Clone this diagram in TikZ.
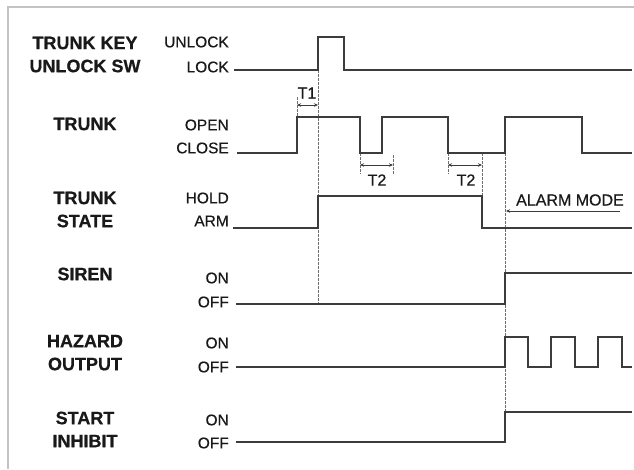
\documentclass[tikz,border=0pt]{standalone}
\usepackage{fontspec}
\setmainfont{Liberation Sans}
\newfontfamily\sigfont[FakeBold=0.6]{Liberation Sans Bold}
\newfontfamily\lvlfont[FakeBold=0.5]{Liberation Sans}
\usetikzlibrary{arrows.meta}
\definecolor{wavec}{RGB}{60,60,60}
\definecolor{guidec}{RGB}{110,110,110}
\definecolor{framec}{RGB}{195,195,195}
\definecolor{txtc}{RGB}{25,25,25}
\begin{document}
\begin{tikzpicture}[x=1pt,y=-1pt,
 wave/.style={line width=1.8pt, draw=wavec, line join=miter},
 guide/.style={line width=0.8pt, draw=guidec, dash pattern=on 2.5pt off 1.5pt},
 dim/.style={line width=0.8pt, draw=wavec, {Stealth[length=4pt,width=3.5pt]}-{Stealth[length=4pt,width=3.5pt]}},
 sig/.style={font=\fontsize{18}{20}\selectfont\sigfont, text=txtc, inner sep=0pt},
 lvl/.style={font=\fontsize{15.5}{17}\selectfont\lvlfont, text=txtc, anchor=east, inner sep=0pt},
 tm/.style={font=\fontsize{16}{18}\selectfont\lvlfont, text=txtc, inner sep=0pt}]
\useasboundingbox (0,0) rectangle (634,469);
\draw[framec, line width=1.5pt] (8,469) -- (8,7) -- (634,7);
% signal names
\node[sig] (k1) at (85,43) {TRUNK KEY};
\node[sig] (k2) at (85,66) {UNLOCK SW};
\node[sig] (t) at (85,124) {TRUNK};
\node[sig] (s1) at (85,198) {TRUNK};
\node[sig] (s2) at (85,221) {STATE};
\node[sig] (sr) at (85,274) {SIREN};
\node[sig] (h1) at (85,341) {HAZARD};
\node[sig] (h2) at (85,364) {OUTPUT};
\node[sig] (i1) at (85,418) {START};
\node[sig] (i2) at (85,441) {INHIBIT};
% levels
\node[lvl] (l1) at (229,42) {UNLOCK};
\node[lvl] (l2) at (229,67) {LOCK};
\node[lvl] (l3) at (229,125) {OPEN};
\node[lvl] (l4) at (229,148) {CLOSE};
\node[lvl] (l5) at (229,198) {HOLD};
\node[lvl] (l6) at (229,221) {ARM};
\node[lvl] (l7) at (229,278) {ON};
\node[lvl] (l8) at (229,302) {OFF};
\node[lvl] (l9) at (229,343) {ON};
\node[lvl] (l10) at (229,367) {OFF};
\node[lvl] (l11) at (229,420) {ON};
\node[lvl] (l12) at (229,443) {OFF};
% guides
\draw[guide] (318,70) -- (318,304);
\draw[guide] (505,153) -- (505,442);
\draw[guide] (297,97) -- (297,117);
\draw[guide] (360,153) -- (360,174);
\draw[guide] (393,155) -- (393,175);
\draw[guide] (448,153) -- (448,174);
\draw[guide] (482,153) -- (482,196);
% waveforms
\draw[wave] (234,70) -- (318,70) -- (318,37) -- (344,37) -- (344,70) -- (632,70);
\draw[wave] (237,153) -- (297,153) -- (297,117) -- (360,117) -- (360,153) -- (382,153) -- (382,117) -- (448,117) -- (448,153) -- (505,153) -- (505,117) -- (582,117) -- (582,153) -- (632,153);
\draw[wave] (233,228) -- (318,228) -- (318,196) -- (482,196) -- (482,228) -- (632,228);
\draw[wave] (236,304) -- (505,304) -- (505,273) -- (632,273);
\draw[wave] (236,367) -- (505,367) -- (505,337) -- (528,337) -- (528,367) -- (551,367) -- (551,337) -- (575,337) -- (575,367) -- (598,367) -- (598,337) -- (622,337) -- (622,367) -- (632,367);
\draw[wave] (236,442) -- (505,442) -- (505,412) -- (632,412);
% timing marks
\draw[dim] (297,105) -- (318,105);
\node[tm] (t1) at (307,93) {T1};
\draw[dim] (360,165) -- (393,165);
\node[tm] (t2a) at (377,180) {T2};
\draw[dim] (448,165) -- (482,165);
\node[tm] (t2b) at (466,180) {T2};
\draw[line width=0.8pt, draw=wavec, {Stealth[length=4pt,width=3.5pt]}-] (506,211) -- (620,211);
\node[tm, anchor=west] (am) at (516,200) {ALARM MODE};
\end{tikzpicture}
\end{document}
